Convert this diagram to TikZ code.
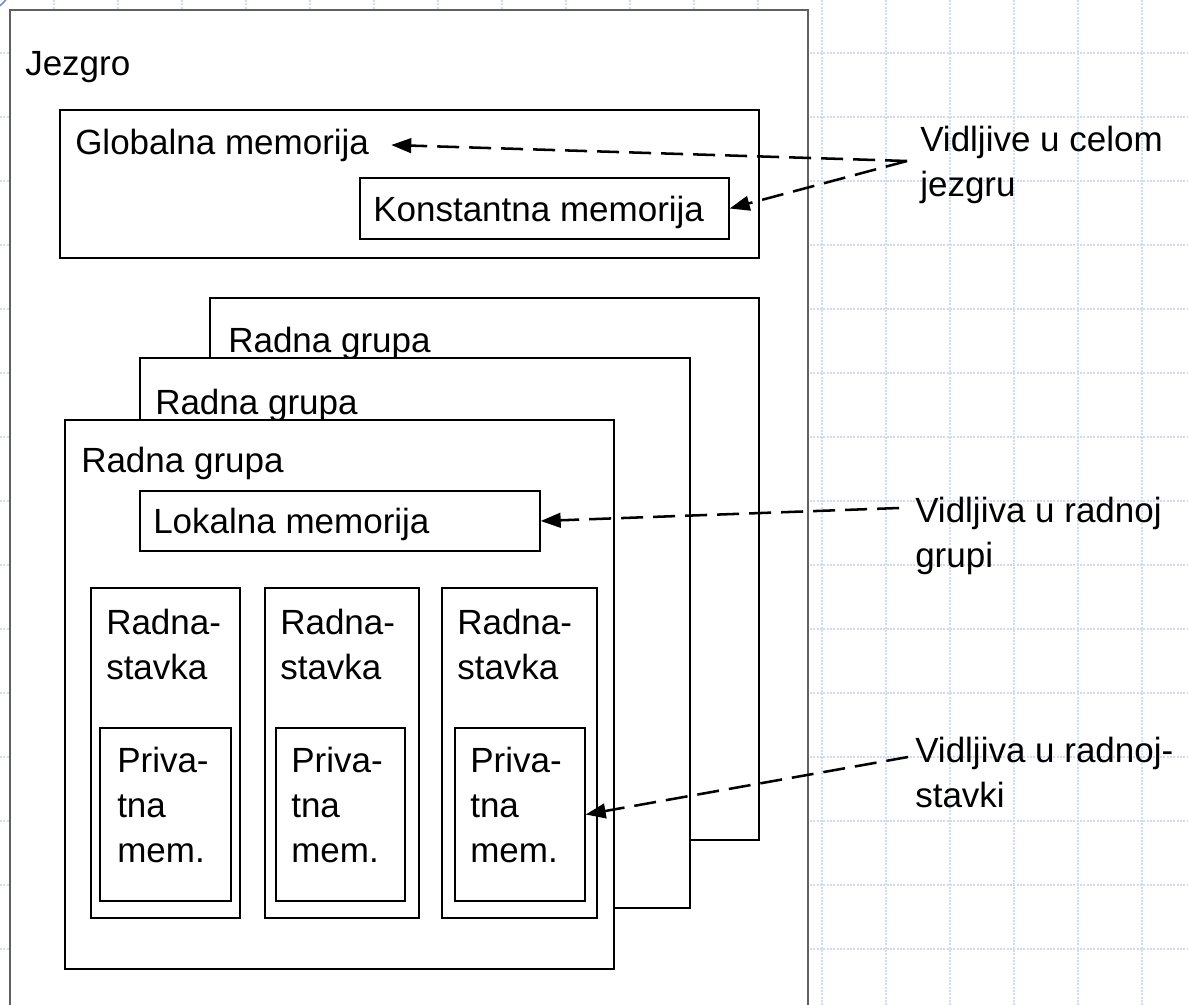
\documentclass[tikz,border=0pt]{standalone}
\usepackage{fontspec}
\setmainfont{Liberation Sans}
\usetikzlibrary{arrows.meta,calc,fit}

\definecolor{gridblue}{RGB}{208,218,249}
\definecolor{arcblue}{RGB}{110,140,235}
\definecolor{framegray}{RGB}{96,96,96}

\tikzset{
  gridline/.style={draw=gridblue, line width=1.1pt, dash pattern=on 1.5pt off 1pt},
  box/.style={draw=black, fill=white, line width=1pt, inner sep=0pt},
  lbl/.style={anchor=base west, inner sep=0pt, align=left, font=\fontsize{26.25}{33.75}\selectfont},
  vis/.style={line width=1.9pt, dash pattern=on 16.5pt off 7.5pt, -{Triangle[length=15pt,width=11pt]}}
}

\begin{document}
\begin{tikzpicture}[x=0.75pt,y=0.75pt,yscale=-1,xscale=1]
        \useasboundingbox (0,0) rectangle (1188,1005);
        \clip (0,0) rectangle (1188,1005);

        %Grid
        \foreach \gx in {54,118,...,1142} \draw[gridline] (\gx,0) -- (\gx,1005);
        \foreach \gy in {53,117,...,1013} \draw[gridline] (0,\gy) -- (1188,\gy);
        %Shape: Arc
        \draw[arcblue, line width=1.2pt] (-20,-20) circle (32.5);

        %Shape: Rectangle (kernel)
        \node[box, draw=framegray, line width=1.5pt, fit={(10,10) (808,1020)}] (jezgro) {};
        \node[lbl] (jezgrotxt) at (25,76) {Jezgro};

        %Shape: Rectangle (global memory)
        \node[box, fit={(60,110) (759,258)}] (glob) {};
        \node[lbl] (globtxt) at (75,155) {Globalna memorija};
        \node[box, fit={(360,178) (729,239)}] (konst) {};
        \node[lbl] (konsttxt) at (373,222) {Konstantna memorija};

        %Shape: Rectangle (work groups, back to front)
        \node[box, fit={(210,298) (759,840)}] (grupa3) {};
        \node[lbl] (grupa3txt) at (228,353) {Radna grupa};
        \node[box, fit={(140,358) (690,908)}] (grupa2) {};
        \node[lbl] (grupa2txt) at (155,414) {Radna grupa};
        \node[box, fit={(65,420) (614,969)}] (grupa1) {};
        \node[lbl] (grupa1txt) at (81,472) {Radna grupa};

        %Shape: Rectangle (local memory)
        \node[box, fit={(140,491) (540,551)}] (lokal) {};
        \node[lbl] (lokaltxt) at (153,533) {Lokalna memorija};

        %Shape: Rectangle (work items)
        \node[box, fit={(91,588) (240,918)}] (stavka1) {};
        \node[box, fit={(265,588) (419,918)}] (stavka2) {};
        \node[box, fit={(442,588) (597,918)}] (stavka3) {};
        % base of a two-line node = its last line
        \node[lbl] (stavka1txt) at (106,679) {Radna-\\stavka};
        \node[lbl] (stavka2txt) at (280,679) {Radna-\\stavka};
        \node[lbl] (stavka3txt) at (457,679) {Radna-\\stavka};

        %Shape: Rectangle (private memory)
        \node[box, fit={(100,728) (231,901)}] (priv1) {};
        \node[box, fit={(276,728) (405,901)}] (priv2) {};
        \node[box, fit={(455,728) (585,901)}] (priv3) {};
        \node[lbl] (priv1txt) at (117,862) {Priva-\\tna\\mem.};
        \node[lbl] (priv2txt) at (291,862) {Priva-\\tna\\mem.};
        \node[lbl] (priv3txt) at (470,862) {Priva-\\tna\\mem.};

        % Text Node (visibility)
        \node[lbl] (celom) at (920,197) {Vidljive u celom\\jezgru};
        \node[lbl] (radnoj) at (915,567) {Vidljiva u radnoj\\grupi};
        \node[lbl] (stavki) at (915,807) {Vidljiva u radnoj-\\stavki};

        %Straight Lines
        \coordinate (src1) at ($(celom.base west)+(-13,-36)$);
        \coordinate (src2) at ($(radnoj.base west)+(-16,-59)$);
        \coordinate (src3) at ($(stavki.base west)+(-7,-50)$);
        \draw[vis] (src1) -- ($(globtxt.base east)+(22,-10)$);
        \draw[vis] (src1) -- (konst.east);
        \draw[vis] (src2) -- (lokal.east);
        \draw[vis] (src3) -- (priv3.east);

\end{tikzpicture}
\end{document}
